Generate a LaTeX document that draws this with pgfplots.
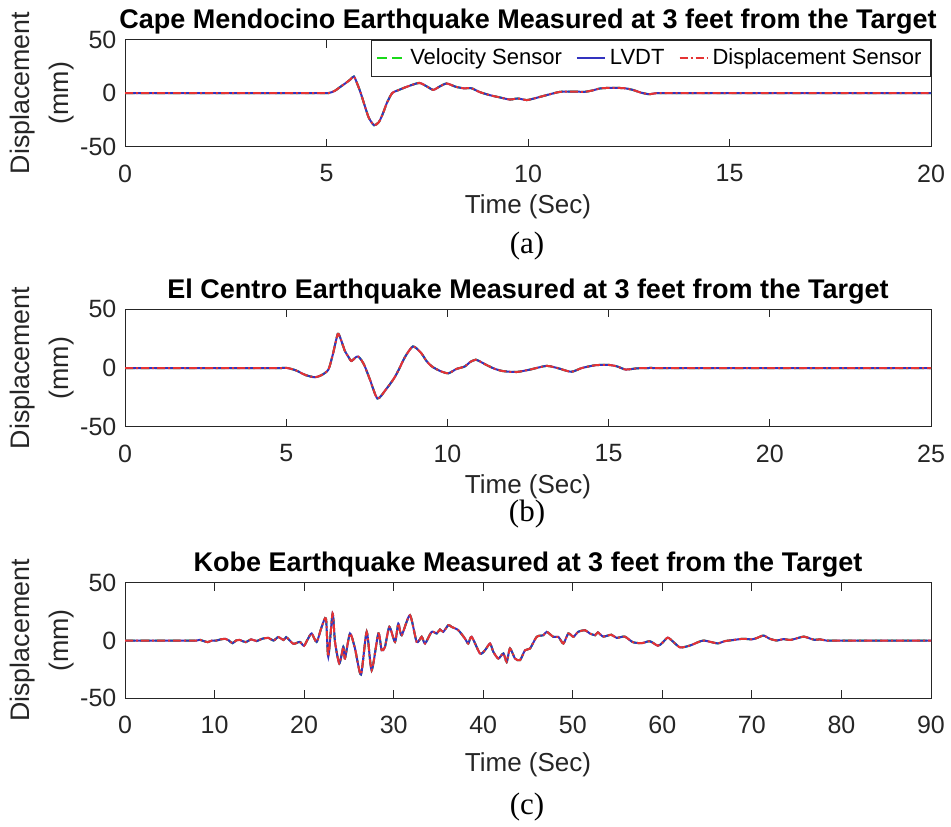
\documentclass[border=0pt]{standalone}
\usepackage{pgfplots}
\pgfplotsset{compat=1.18}
\usepackage{pgfplotstable}
\usepackage{fontspec}
\setmainfont{Liberation Sans}
\newfontfamily\captionserif{Liberation Serif}

\definecolor{axgray}{gray}{0.15}
\definecolor{velgreen}{rgb}{0.10,0.85,0.10}
\definecolor{lvdtblue}{rgb}{0.20,0.20,0.75}
\definecolor{dispred}{rgb}{0.90,0.20,0.20}

% Cape Mendocino record (time in s, displacement in mm)
\pgfplotstableread{
t v
0 0
4.0 0
4.6 0
4.9 0
5.05 0
5.2 2
5.35 6
5.5 10
5.6 13
5.68 15.5
5.75 10
5.85 0
5.95 -12
6.05 -23
6.18 -30
6.3 -27
6.4 -19
6.5 -9
6.63 0
6.8 3
7.0 6
7.3 9.5
7.5 6
7.65 3
7.8 6
7.98 9
8.2 6
8.4 4.5
8.6 4.5
8.8 1
9.06 -2
9.3 -4
9.55 -6
9.75 -5
9.97 -6.5
10.2 -4.5
10.55 -1
10.8 1.2
11.1 1.5
11.4 1.2
11.6 2.5
11.8 4.4
12.1 5
12.4 4.5
12.6 3
12.8 0.5
13.0 -1
13.2 0
13.5 0
13.9 0
15 0
20 0
}\capeData

% El Centro record
\pgfplotstableread{
t v
0 0
4.0 0
4.6 0
4.85 0
5.04 0
5.3 -2
5.6 -6
5.89 -7.9
6.1 -6
6.31 -1.3
6.45 12
6.6 29
6.7 24
6.82 14.5
6.92 10
7.02 6
7.15 9
7.24 9.7
7.35 6
7.44 1.3
7.6 -10
7.83 -26
8.1 -18
8.34 -9
8.5 -1
8.68 9.2
8.93 18.4
9.18 13
9.35 6
9.52 1.3
9.78 -2.6
10.03 -4.5
10.28 -0.8
10.54 1.3
10.7 5
10.88 7.1
11.05 5
11.21 2.6
11.45 -0.5
11.72 -2.6
12.14 -3.4
12.57 -1.3
13.07 1.8
13.41 0
13.84 -3.2
14.17 0
14.6 2.4
15.02 2.6
15.27 1.3
15.53 -1.3
15.87 -0.3
16.2 0
16.5 0
16.9 0
18 0
25 0
}\centroData

% Kobe record
\pgfplotstableread{
t v
0 0
6.5 0
7.3 0
7.7 0
8.0 0
8.35 0.6
8.8 -0.5
9.26 -1.4
9.7 0
10.2 0
10.7 1
11.2 1.4
11.6 0
12.0 -2.3
12.4 0
12.8 0.5
13.2 -0.8
13.5 -1.4
14.1 1
14.7 -0.5
15.3 1.5
16.0 2.3
16.6 0
17.1 3
17.7 0.5
18.0 2.9
18.4 0
18.8 -2.9
19.2 -2
19.54 -1.2
19.99 -4.6
20.4 1
20.84 6.1
21.4 -1.2
21.96 11.8
22.44 19
22.7 -14
23.18 23.4
23.45 -1.2
23.93 -19.9
24.38 -5.5
24.56 -15.6
25.12 6.1
25.68 -6.9
26.35 -29.4
26.99 7.5
27.54 -25.7
28.29 6.1
28.66 -8.4
29.03 -5.5
29.52 11.8
30.15 -1.2
30.52 14.7
30.89 4.6
31.82 21.9
32.57 -1.2
33.13 3.2
33.5 -2.6
34.24 7.5
34.8 6.1
35.17 9.5
35.54 7.5
36.1 13.3
36.47 11.8
37.22 8.9
37.96 1.7
38.33 -2.6
38.71 3.2
39.64 -11.2
40.2 -8.4
40.76 -2.6
41.13 -9.8
41.69 -15.6
42.25 -11.2
42.62 -18.5
42.99 -6.9
43.55 -15.6
44.11 -17
44.67 -8.4
45.23 -6.9
45.97 3.2
46.72 4.6
47.09 7.5
47.83 3.2
48.39 3.2
48.95 -2.6
49.5 6.1
50.07 3.2
50.6 7.5
51.37 8.9
51.9 6.1
52.5 4.6
52.8 7
53.4 3.4
54.3 5
54.9 2.3
55.8 3.4
56.7 -1.4
57.7 -2.3
58.6 -0.6
59.5 -4.5
60.0 -2
60.6 2.5
61.2 -1
62.0 -6
63.1 -4.3
64.0 -1.4
64.6 0
65.5 -1.4
66.2 -2.5
67.0 -0.5
68.0 0.5
69.0 1.5
70.0 1
70.6 2.3
71.3 4.3
72.0 1.5
72.8 0
73.5 1.2
74.3 0.5
75.2 2.3
75.8 3.4
76.4 2
77.0 0.6
77.6 1
78.3 0
78.8 0
79.5 0
81 0
90 0
}\kobeData

\pgfplotsset{
  quake/.style={
    scale only axis,
    width=403pt,
    ymin=-50, ymax=50,
    ytick={-50,0,50},
    axis line style={axgray},
    tick style={axgray, line width=0.5pt},
    tick align=inside,
    major tick length=4pt,
    /pgf/number format/assume math mode=true,
    ticklabel style={font=\fontsize{12.5}{15}\selectfont, text=axgray},
    xticklabel style={yshift=-5.5pt},
    yticklabel style={xshift=-0.8pt},
    xlabel={Time (Sec)},
    xlabel style={font=\fontsize{13}{15}\selectfont, text=axgray,
      at={(axis description cs:0.5,0)}, anchor=north, yshift=-20.5pt},
    ylabel={Displacement\\(mm)},
    ylabel style={font=\fontsize{13.4}{19.3}\selectfont, text=axgray, align=center,
      at={(axis description cs:-0.103,0.5)}, anchor=center},
    title style={font=\bfseries\fontsize{13.5}{16}\selectfont, text=black, yshift=-7pt},
    legend image code/.code={\draw[#1] (0pt,0pt) -- (14pt,0pt);},
  },
  velocity/.style={velgreen, line width=1pt, dash pattern=on 5pt off 2.5pt, smooth, tension=0.4},
  lvdt/.style={lvdtblue, line width=1pt, smooth, tension=0.4},
  dispsensor/.style={dispred, line width=1pt, dash pattern=on 4pt off 1.5pt on 1pt off 1.5pt, smooth, tension=0.4},
}

\begin{document}
\begin{tikzpicture}
\useasboundingbox (0,0) rectangle (475.5pt,-413pt);

% (a) Cape Mendocino
\begin{axis}[quake, at={(62.5pt,-19.75pt)}, anchor=north west, height=53.6pt,
  xmin=0, xmax=20, xtick={0,5,10,15,20},
  title={Cape Mendocino Earthquake Measured at 3 feet from the Target},
  legend columns=3,
  legend style={at={(rel axis cs:1,1)}, anchor=north east, draw=axgray,
    font=\fontsize{11}{13}\selectfont, text=black, inner sep=2.5pt,
    /tikz/every even column/.append style={column sep=5pt}},
]
\addplot[velocity] table[x=t, y=v] {\capeData};
\addlegendentry{Velocity Sensor}
\addplot[lvdt] table[x=t, y=v] {\capeData};
\addlegendentry{LVDT}
\addplot[dispsensor] table[x=t, y=v] {\capeData};
\addlegendentry{Displacement Sensor}
\end{axis}

% (b) El Centro
\begin{axis}[quake, at={(62.5pt,-154.65pt)}, anchor=north west, height=58.7pt,
  xmin=0, xmax=25, xtick={0,5,10,15,20,25},
  title={El Centro Earthquake Measured at 3 feet from the Target},
]
\addplot[velocity] table[x=t, y=v] {\centroData};
\addplot[lvdt] table[x=t, y=v] {\centroData};
\addplot[dispsensor] table[x=t, y=v] {\centroData};
\end{axis}

% (c) Kobe
\begin{axis}[quake, at={(62.5pt,-291.35pt)}, anchor=north west, height=57.8pt,
  xmin=0, xmax=90, xtick={0,10,...,90},
  title={Kobe Earthquake Measured at 3 feet from the Target},
  xlabel style={yshift=-3pt},
]
\addplot[velocity] table[x=t, y=v] {\kobeData};
\addplot[lvdt] table[x=t, y=v] {\kobeData};
\addplot[dispsensor] table[x=t, y=v] {\kobeData};
\end{axis}

\node[font=\captionserif\fontsize{15.5}{18}\selectfont] at (263.5pt,-123pt) {(a)};
\node[font=\captionserif\fontsize{15.5}{18}\selectfont] at (263.5pt,-257pt) {(b)};
\node[font=\captionserif\fontsize{15.5}{18}\selectfont] at (263.5pt,-403.5pt) {(c)};
\end{tikzpicture}
\end{document}
